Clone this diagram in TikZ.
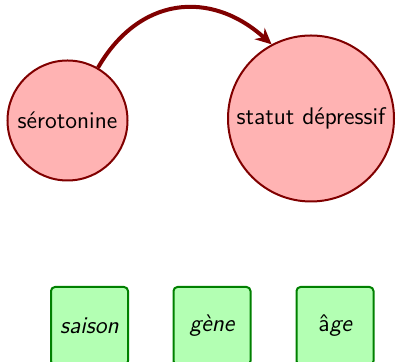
\documentclass[tikz,border=0pt]{standalone}
\usepackage{fontspec}
\usetikzlibrary{arrows.meta}
\definecolor{varfill}{HTML}{FFB3B3}
\definecolor{vardraw}{HTML}{800000}
\definecolor{covfill}{HTML}{B3FFB3}
\definecolor{covdraw}{HTML}{008000}
\tikzset{
  var/.style={circle, draw=vardraw, fill=varfill, line width=1pt, inner sep=0pt,
    font=\sffamily\fontsize{12}{14}\selectfont},
  cov/.style={rectangle, rounded corners=2pt, draw=covdraw, fill=covfill, line width=1pt,
    minimum width=38.5pt, minimum height=39pt, inner sep=0pt,
    font=\sffamily\itshape\fontsize{12}{14}\selectfont},
  effect/.style={draw=vardraw, line width=2pt, -{Stealth[length=8pt,width=7.5pt]}},
}
\begin{document}
\begin{tikzpicture}[x=0.5pt, y=-0.5pt]
  \useasboundingbox (0,0) rectangle (396,362);
  \node[var, minimum size=60pt] (sero) at (67.5,120.5) {sérotonine};
  \node[var, minimum size=83pt] (dep) at (311,118.5) {statut dépressif};
  \node[cov] (saison) at (89.5,326) {saison};
  \node[cov] (gene) at (212,326) {gène};
  \node[cov] (age) at (335,326) {{\upshape â}ge};
  \draw[effect] (sero.60) to[out=60, in=138, looseness=1.2] (dep.118);
\end{tikzpicture}
\end{document}
